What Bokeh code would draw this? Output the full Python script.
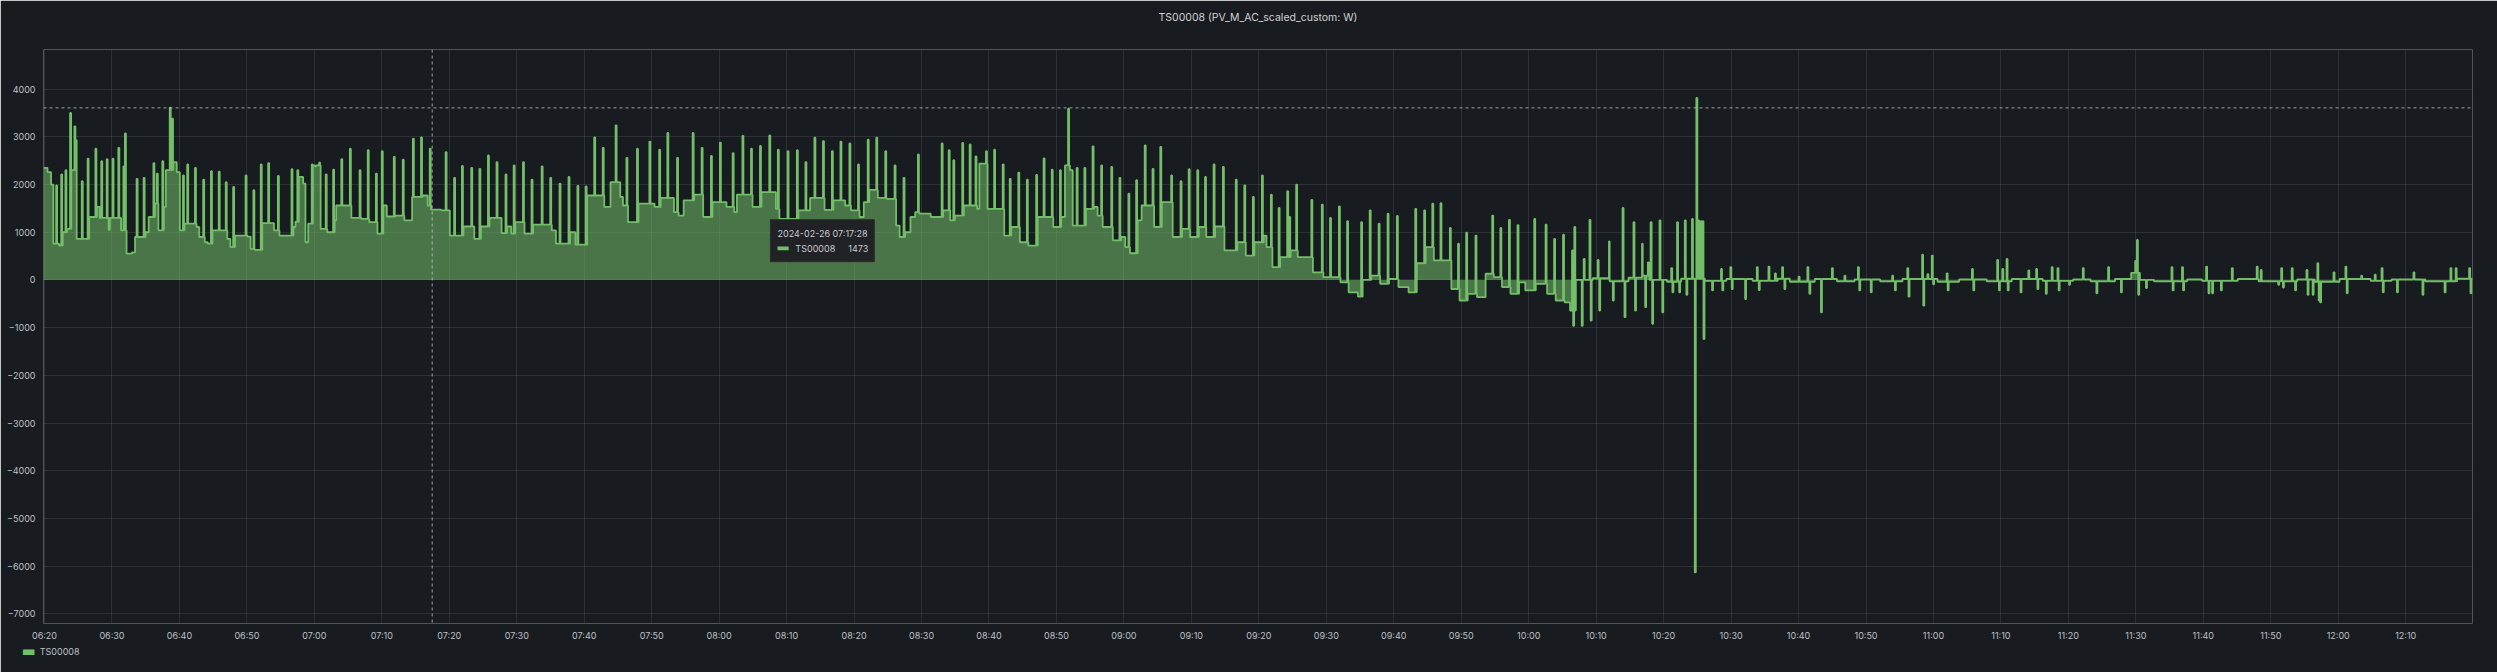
import numpy as np
import pandas as pd
from bokeh.plotting import figure
from bokeh.models import (Range1d, FixedTicker, DatetimeTickFormatter, Span, BoxAnnotation,
                          Label, Title, LinearAxis)
from bokeh.embed import file_html
from bokeh.resources import INLINE

# ---------------------------------------------------------------- data
TITLE = "TS00008 (PV_M_AC_scaled_custom: W)"
SERIES = "TS00008"
DAY = "2024-02-26"
ORIGIN = "06:20:00"          # minute offsets below are counted from this time
X_START_MIN, X_END_MIN = -0.15, 359.9
Y_MIN, Y_MAX = -7200, 4830
SPIKE_MIN = 0.15             # duration of a single high/low sample (minutes)

X_TICKS = ["06:20", "06:30", "06:40", "06:50", "07:00", "07:10", "07:20", "07:30",
           "07:40", "07:50", "08:00", "08:10", "08:20", "08:30", "08:40", "08:50",
           "09:00", "09:10", "09:20", "09:30", "09:40", "09:50", "10:00", "10:10",
           "10:20", "10:30", "10:40", "10:50", "11:00", "11:10", "11:20", "11:30",
           "11:40", "11:50", "12:00", "12:10"]
Y_TICKS = [-7000, -6000, -5000, -4000, -3000, -2000, -1000, 0, 1000, 2000, 3000, 4000]

# (minutes after 06:20, W) -- plateau levels of the signal
BASE = [
    (-0.15, 2350), (0.45, 2260), (0.97, 2000), (1.31, 760), (2.18, 720), (2.70, 1000),
    (3.33, 1070), (3.97, 2300), (4.77, 860), (6.62, 1320), (7.77, 1530), (8.18, 1300),
    (9.5, 1050), (9.68, 1300), (11.35, 1040), (12.16, 550), (12.96, 580), (13.42, 900),
    (14.98, 1000), (15.44, 1320), (16.37, 1600), (16.88, 1040), (17.69, 1530), (17.98, 2300),
    (19.08, 2470), (19.6, 2260), (20.06, 1040), (20.75, 1180), (22.54, 1110), (22.94, 900),
    (23.75, 790), (24.2, 760), (24.9, 1040), (27.09, 860), (27.55, 690), (28.24, 930),
    (30.09, 910), (30.55, 650), (31.19, 630), (32.28, 1190), (34.01, 1040), (34.82, 930),
    (36.9, 1110), (37.2, 1220), (37.7, 2160), (38.34, 2020), (38.68, 790), (39.09, 1180),
    (39.78, 2400), (40.93, 1070), (41.91, 1000), (43.01, 1250), (43.24, 1560), (45.49, 1300),
    (46.99, 1280), (48.14, 1210), (49.35, 970), (50.22, 1560), (50.74, 1330), (52.0, 1350),
    (53.33, 1250), (54.49, 1740), (56.04, 1770), (56.79, 1560), (57.3, 1473), (58.81, 1460),
    (60.08, 930), (62.1, 1120), (63.71, 860), (64.69, 1120), (65.96, 1300), (67.75, 980),
    (68.56, 1120), (69.19, 970), (69.77, 1210), (71.15, 970), (72.42, 1160), (75.19, 1040),
    (75.8, 760), (77.9, 1000), (78.7, 740), (80.44, 1770), (82.97, 1530), (83.9, 2050),
    (85.34, 1740), (85.74, 1560), (86.49, 1210), (88.05, 1600), (90.42, 1530), (91.34, 1720),
    (93.3, 1420), (93.99, 1350), (94.74, 1670), (96.3, 1790), (97.63, 1320), (99.01, 1630),
    (101.09, 1530), (102.24, 1420), (102.64, 1790), (104.95, 1530), (106.28, 1840),
    (108.41, 1490), (108.93, 1280), (111.75, 1460), (113.48, 1720), (115.62, 1470),
    (116.94, 1670), (118.68, 1560), (119.54, 1460), (120.81, 1320), (121.44, 1630),
    (122.25, 1890), (123.52, 1720), (124.85, 1700), (126.23, 1140), (126.75, 900),
    (127.56, 1000), (128.36, 1320), (129.06, 1420), (129.69, 1390), (131.36, 1320),
    (133.21, 1460), (134.25, 1250), (134.94, 1350), (136.27, 1560), (138.23, 1490),
    (138.57, 2440), (139.78, 1490), (142.26, 930), (143.3, 1110), (144.57, 790), (145.84, 720),
    (147.22, 1320), (149.53, 1110), (150.7, 1320), (151.26, 2400), (152.0, 2300),
    (152.41, 1140), (154.37, 1490), (155.58, 1530), (156.1, 1350), (156.85, 1110),
    (158.35, 830), (159.6, 900), (160.2, 690), (160.89, 560), (162.04, 1250), (162.62, 1560),
    (164.47, 1110), (165.62, 1630), (167.23, 900), (168.62, 1070), (169.8, 900),
    (171.1, 1110), (172.2, 900), (173.52, 1120), (174.9, 620), (176.81, 790), (178.07, 510),
    (179.34, 790), (180.74, 930), (181.14, 690), (182.01, 270), (183.16, 480), (184.72, 620),
    (185.76, 480), (188.01, 160), (189.56, 60), (192.1, -50), (193.31, -260), (194.7, -350),
    (195.39, 0), (196.66, 90), (197.98, -80), (199.3, 20), (200.69, -150), (202.19, -260),
    (203.41, 350), (204.73, 690), (205.94, 410), (208.54, -190), (209.75, -430),
    (210.96, -290), (212.34, -360), (213.61, 130), (214.82, 60), (216.04, -150),
    (217.3, -290), (218.57, -50), (219.5, -220), (221.05, -80), (222.73, -290), (224.0, -430),
    (225.32, -470), (226.13, -640), (226.99, 0), (229.5, 40), (232.0, -30), (234.8, 50),
    (236.9, 90), (237.9, 0), (240.5, -40), (242.6, 30), (246.1, -20), (249.3, 20),
    (253.2, -20), (256.9, 30), (258.7, -40), (262.4, 20), (265.7, -30), (268.3, 10),
    (272.1, -30), (275.4, 20), (280.6, -40), (283.8, 10), (287.9, -30), (291.6, 20),
    (296.2, -20), (300.7, 10), (303.3, -30), (306.9, 20), (309.3, 150), (310.6, 0),
    (312.7, -30), (317.6, 10), (319.8, -20), (325.1, 20), (328.2, -30), (333.9, 10),
    (336.5, -40), (340.2, 20), (344.8, -20), (347.9, 10), (352.9, -30), (357.6, 30),
]

# (minutes after 06:20, W) -- short single-sample excursions
SPIKES = [
    (1.72, 1980), (2.47, 2210), (3.10, 2300), (3.79, 3500), (4.43, 3220), (4.66, 2930),
    (5.52, 2070), (6.39, 2540), (7.54, 2750), (8.41, 2490), (9.21, 2530), (10.08, 2540),
    (10.94, 2770), (11.69, 2380), (11.92, 3070), (13.65, 2120), (14.69, 2140), (16.14, 2450),
    (16.65, 2230), (17.46, 2490), (18.56, 3610), (18.9, 3380), (20.52, 2190), (21.15, 2420),
    (22.3, 2350), (23.52, 2100), (24.67, 2280), (25.82, 2270), (26.86, 2050), (27.96, 1950),
    (29.8, 2190), (30.96, 1880), (32.05, 2420), (33.15, 2450), (34.59, 2180), (36.61, 2320),
    (37.47, 2300), (39.61, 2420), (40.1, 2380), (40.7, 2460), (41.68, 2210), (42.78, 2310),
    (43.99, 2530), (45.26, 2750), (46.7, 2300), (47.91, 2720), (49.12, 2230), (49.99, 2700),
    (51.77, 2580), (53.1, 2520), (54.6, 2960), (55.81, 2990), (57.1, 2750), (59.45, 2680),
    (60.71, 2140), (61.87, 2390), (63.25, 2350), (64.46, 2330), (65.73, 2610), (67.0, 2470),
    (68.33, 2210), (69.54, 2400), (70.92, 2470), (72.19, 2100), (73.69, 2380), (74.96, 2140),
    (76.34, 2020), (77.67, 2160), (78.99, 1970), (80.21, 1960), (81.48, 2990), (82.74, 2770),
    (84.65, 3240), (86.26, 2560), (87.82, 2750), (89.66, 2900), (91.11, 2730), (92.32, 3080),
    (93.76, 2560), (96.07, 3080), (97.4, 2770), (98.78, 2600), (100.11, 2880), (102.0, 2660),
    (103.45, 3020), (104.72, 2750), (106.05, 2810), (107.43, 3030), (108.7, 2730),
    (110.14, 2700), (111.52, 2720), (112.79, 2470), (114.12, 2980), (115.39, 2910),
    (116.71, 2700), (117.98, 2900), (119.31, 2860), (120.58, 2420), (122.02, 2940),
    (123.29, 2980), (124.62, 2700), (126.0, 2400), (127.33, 2140), (129.46, 2630),
    (132.98, 2860), (134.02, 2720), (134.71, 2510), (136.03, 2870), (137.13, 2840),
    (138.0, 2590), (139.55, 2700), (140.76, 2730), (142.03, 2420), (143.07, 2120),
    (144.34, 2250), (145.61, 2100), (146.99, 2200), (148.09, 2550), (149.3, 2310),
    (150.51, 2300), (151.72, 3590), (152.99, 2350), (154.14, 2350), (155.35, 2800),
    (156.62, 2400), (158.12, 2370), (159.33, 2140), (160.66, 1810), (161.81, 2090),
    (163.08, 2820), (164.24, 2330), (165.39, 2790), (167.0, 2190), (168.39, 2070),
    (169.6, 2320), (170.87, 2300), (172.02, 2160), (173.29, 2420), (174.67, 2370),
    (176.58, 2100), (177.84, 1980), (179.11, 1740), (180.45, 2190), (181.78, 1790),
    (182.93, 1510), (184.2, 1860), (184.5, 1320), (185.53, 2000), (187.78, 1680),
    (189.33, 1580), (190.55, 1300), (191.87, 1540), (193.08, 1230), (195.16, 1210),
    (196.43, 1460), (197.75, 1180), (199.08, 1390), (200.46, 1340), (203.18, 1490),
    (204.5, 1460), (205.71, 1600), (206.92, 1610), (208.31, 1090), (209.52, 760),
    (210.73, 990), (212.11, 930), (214.59, 1350), (215.8, 1090), (217.07, 1260),
    (218.34, 1150), (220.82, 1280), (222.5, 1160), (223.76, 860), (225.09, 950),
    (226.42, 620), (226.59, -960), (226.76, 1110), (227.86, -960), (228.15, 440),
    (229.01, 1260), (229.19, -850), (230.22, 420), (230.45, -640), (231.9, 810),
    (232.47, -430), (233.91, 1510), (234.2, -780), (235.53, 1210), (235.76, -640),
    (236.8, 760), (237.26, -570), (237.66, 370), (238.07, 1210), (238.3, -920),
    (239.39, 1250), (239.8, -680), (241.12, 250), (241.3, -260), (241.99, 1210),
    (242.3, -260), (243.14, 1250), (243.37, -310), (244.2, 1280), (244.62, -6130),
    (244.85, 3815), (245.1, 1250), (245.5, 1230), (245.79, 1230), (245.91, -1240),
    (247.18, -220), (248.5, 230), (248.7, -220), (249.89, 270), (250.1, -190),
    (252.08, -400), (253.81, 270), (254.1, -210), (255.54, 280), (256.5, 140),
    (257.56, 270), (257.9, -190), (260.0, 70), (261.31, 270), (261.6, -290),
    (263.32, -680), (264.94, 250), (266.8, 90), (268.8, 270), (269.0, -220),
    (270.7, -260), (273.87, 90), (274.28, -220), (276.12, 250), (276.3, -350),
    (278.31, 530), (278.49, -540), (279.1, 120), (279.75, 510), (279.95, -90),
    (281.95, 140), (282.1, -220), (285.7, 230), (285.9, -220), (289.44, 420),
    (289.7, -220), (290.2, 230), (290.83, 440), (291.0, -220), (292.9, -260),
    (294.06, 200), (295.21, 230), (295.4, -190), (296.65, -290), (297.52, 270),
    (298.38, 250), (298.55, -220), (300.1, -100), (302.13, 250), (304.15, -280),
    (305.88, 270), (307.78, -260), (309.9, 400), (310.15, 840), (310.35, -310),
    (311.5, -170), (315.28, 270), (315.45, -220), (316.84, 270), (317.0, -220),
    (320.41, 280), (320.76, -280), (321.3, -280), (322.6, -220), (324.22, 250),
    (327.91, 280), (328.5, 210), (331.1, -100), (331.54, 250), (331.8, -160),
    (333.1, 250), (333.6, -220), (335.29, 210), (335.45, -310), (336.2, -310),
    (336.9, 350), (337.1, -430), (337.31, -470), (339.3, 160), (341.06, 280),
    (341.25, -280), (343.4, 90), (345.4, 110), (346.42, 250), (346.6, -260),
    (348.7, -260), (351.15, 160), (352.48, -310), (355.76, -260), (356.63, 250),
    (357.4, 250), (359.4, 250), (359.6, -280),
]

CURSOR_TIME = "07:17:28"
CURSOR_VALUE = 1473
CURSOR_Y = 3606

# ---------------------------------------------------------------- build series
origin = pd.Timestamp(f"{DAY} {ORIGIN}")
epoch = pd.Timestamp("1970-01-01")


def ms_from_min(m):
    return ((origin + pd.Timedelta(minutes=m)) - epoch) / pd.Timedelta(milliseconds=1)


def ms_from_clock(hhmmss):
    return (pd.Timestamp(f"{DAY} {hhmmss}") - epoch) / pd.Timedelta(milliseconds=1)


events = [(t, v, False) for t, v in BASE] + [(t, v, True) for t, v in SPIKES]
events.sort(key=lambda e: e[0])
xs, ys = [], []
level = BASE[0][1]
for i, (t, v, is_spike) in enumerate(events):
    xs.append(t)
    ys.append(v)
    if is_spike:
        nxt = events[i + 1][0] if i + 1 < len(events) else X_END_MIN
        if nxt > t + SPIKE_MIN:
            xs.append(t + SPIKE_MIN)
            ys.append(level)
    else:
        level = v
xs.append(X_END_MIN)
ys.append(level)

x_ms = np.array([ms_from_min(m) for m in xs])
y_w = np.array(ys, dtype=float)

# ---------------------------------------------------------------- figure
BG = "#181b1f"
GREEN = "#73BF69"
TXT = "#bfc0c8"
FONT = "Inter"
FS = "9px"

p = figure(width=2497, height=672, x_axis_type="datetime",
           output_backend="svg", toolbar_location=None,
           x_range=Range1d(ms_from_min(X_START_MIN), ms_from_min(X_END_MIN)),
           y_range=Range1d(Y_MIN, Y_MAX),
           background_fill_color=BG, border_fill_color=BG,
           min_border_left=43, min_border_right=25, min_border_top=49, min_border_bottom=49)
p.outline_line_color = None

# spacer panel between the frame and the title
p.add_layout(Title(text=" ", text_font_size="1px", standoff=23), "above")

p.title.text = TITLE
p.title.align = "center"
p.title.vertical_align = "bottom"
p.title.text_font = FONT
p.title.text_font_size = "10.5px"
p.title.text_font_style = "normal"
p.title.text_color = "#d0d1d6"
p.title.standoff = 0

p.xaxis.ticker = FixedTicker(ticks=[ms_from_clock(t + ":00") for t in X_TICKS])
p.xaxis.formatter = DatetimeTickFormatter(seconds="%H:%M", minsec="%H:%M", minutes="%H:%M",
                                          hourmin="%H:%M", hours="%H:%M", days="%H:%M")
p.yaxis.ticker = FixedTicker(ticks=Y_TICKS)
for ax in (p.xaxis, p.yaxis):
    ax.axis_line_color = None
    ax.major_tick_line_color = None
    ax.minor_tick_line_color = None
    ax.major_tick_out = 0
    ax.major_tick_in = 0
    ax.minor_tick_out = 0
    ax.major_label_text_color = TXT
    ax.major_label_text_font = FONT
    ax.major_label_text_font_size = FS
p.xaxis.major_label_standoff = 6
p.yaxis.major_label_standoff = 8
p.grid.grid_line_color = "#ccccdc"
p.grid.grid_line_alpha = 0.12

p.varea_step(x=x_ms, y1=np.zeros_like(y_w), y2=y_w, step_mode="after",
             fill_color=GREEN, fill_alpha=0.55)
p.step(x=x_ms, y=y_w, mode="after", line_color=GREEN, line_width=1.8)

# cursor crosshair
p.add_layout(Span(location=ms_from_clock(CURSOR_TIME), dimension="height",
                  line_color="#ccccdc", line_alpha=0.75, line_dash="3 3", line_width=1))
p.add_layout(Span(location=CURSOR_Y, dimension="width",
                  line_color="#ccccdc", line_alpha=0.75, line_dash="3 3", line_width=1))

# tooltip
p.add_layout(BoxAnnotation(left=ms_from_min(107.6), right=ms_from_min(123.0), top=1263, bottom=383,
                           fill_color="#202226", fill_alpha=1.0, line_color="#2a2d33", line_alpha=1.0))
p.add_layout(Label(x=ms_from_min(108.65), y=976, text=f"{DAY} {CURSOR_TIME}",
                   text_baseline="middle", text_font=FONT, text_font_size=FS,
                   text_color="#c9cad0"))
p.add_layout(BoxAnnotation(left=ms_from_min(108.65), right=ms_from_min(110.3), top=700, bottom=625,
                           fill_color=GREEN, fill_alpha=1.0, line_color=None))
p.add_layout(Label(x=ms_from_min(111.3), y=662, text=SERIES,
                   text_baseline="middle", text_font=FONT, text_font_size=FS,
                   text_color="#c9cad0"))
p.add_layout(Label(x=ms_from_min(122.1), y=662, text=str(CURSOR_VALUE), text_align="right",
                   text_baseline="middle", text_font=FONT, text_font_size=FS,
                   text_color="#c9cad0"))

# legend row under the time axis: green swatch (a title-panel glyph) ...
p.add_layout(Title(text="\u25ac", align="left", offset=-22, vertical_align="middle", standoff=-6,
                   text_font="DejaVu Sans", text_font_size="15px", text_color=GREEN),
             "below")

# ... and the series name as the label of an extra axis, pulled up onto the same row
LEG_TEXT_AT = int(round(ms_from_min(2.25)))
legend_axis = LinearAxis(
    ticker=FixedTicker(ticks=[LEG_TEXT_AT]),
    major_label_overrides={LEG_TEXT_AT: SERIES},
    bounds=(ms_from_min(-0.1), ms_from_min(10)),
    axis_line_color=None,
    major_tick_line_color=None, major_tick_in=0, major_tick_out=0,
    minor_tick_line_color=None, minor_tick_in=0, minor_tick_out=0,
    major_label_standoff=-12, major_label_text_font=FONT, major_label_text_font_size=FS,
    major_label_text_color=TXT)
p.add_layout(legend_axis, "below")

open("out.html", "w").write(file_html(p, INLINE))
